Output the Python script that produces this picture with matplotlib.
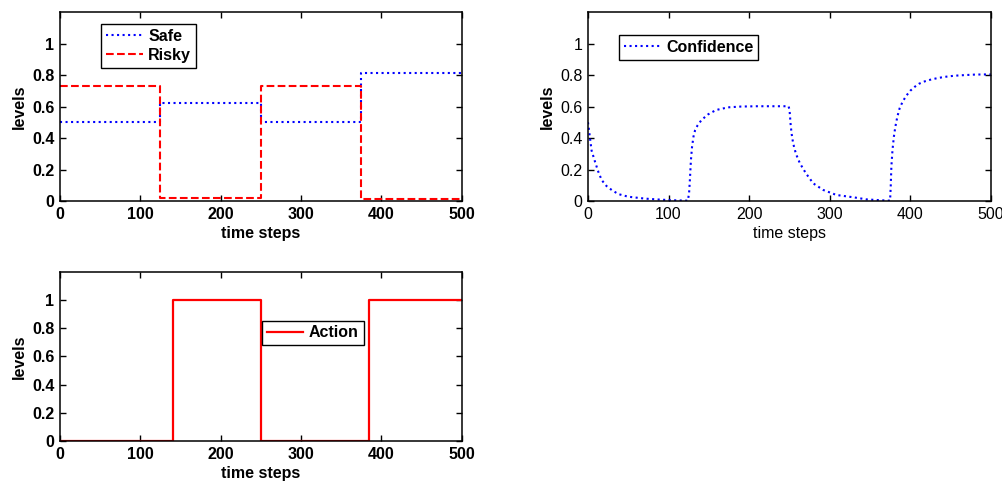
import numpy as np
import matplotlib
matplotlib.use('Agg')
import matplotlib.pyplot as plt
from matplotlib.ticker import FormatStrFormatter

plt.rcParams['font.family'] = ['Liberation Sans', 'DejaVu Sans']
plt.rcParams['font.size'] = 11.5

# step series: change points and level in each segment
step_t = [0, 125, 250, 375, 500]
safe = [0.50, 0.625, 0.50, 0.815]
risky = [0.73, 0.02, 0.73, 0.01]

action_t = [0, 140, 250, 384, 500]
action = [0, 1, 0, 1]

# confidence curve
conf_t = [0, 4.5, 8.7, 12.8, 17, 23, 29.4, 37.6, 50, 70.7, 91.4, 110, 124,
          125.5, 126.5, 127.8, 129.2, 131, 133, 136, 141, 149, 159, 174, 190, 210, 230, 249,
          250.2, 251.5, 252.7, 254.7, 258.1, 263, 270.5, 279.6, 292, 308.5, 330, 346, 362, 375,
          375.8, 376.6, 378, 379.7, 381.5, 384, 386.8, 390.5, 395, 400, 405.5, 411, 418, 426,
          435, 445, 455, 468, 480, 490, 500]
conf = [0.50, 0.32, 0.25, 0.186, 0.133, 0.095, 0.07, 0.044, 0.027, 0.015, 0.008, 0.004, 0.002,
        0.05, 0.133, 0.26, 0.345, 0.41, 0.45, 0.48, 0.515, 0.55, 0.578, 0.595, 0.60, 0.602, 0.602, 0.602,
        0.578, 0.49, 0.43, 0.366, 0.30, 0.24, 0.176, 0.112, 0.07, 0.038, 0.023, 0.01, 0.005, 0.002,
        0.09, 0.218, 0.324, 0.408, 0.47, 0.535, 0.588, 0.63, 0.668, 0.70, 0.725, 0.745, 0.76, 0.772,
        0.782, 0.79, 0.796, 0.80, 0.803, 0.804, 0.804]

FS = 11.5


def stairs(t, v):
    return t, list(v) + [v[-1]]


def style(ax, bold_ticks=True, bold_xlabel=True):
    ax.set_xlim(0, 500)
    ax.set_ylim(0, 1.2)
    ax.set_xticks([0, 100, 200, 300, 400, 500])
    ax.set_yticks([0, 0.2, 0.4, 0.6, 0.8, 1.0])
    ax.yaxis.set_major_formatter(FormatStrFormatter('%g'))
    ax.tick_params(direction='in', length=4, width=1, top=True, right=True, labelsize=FS, pad=4)
    w = 'bold' if bold_ticks else 'normal'
    for lab in ax.get_xticklabels() + ax.get_yticklabels():
        lab.set_fontweight(w)
    ax.set_xlabel('time steps', fontsize=FS, fontweight='bold' if bold_xlabel else 'normal', labelpad=3)
    ax.set_ylabel('levels', fontsize=FS, fontweight='bold', labelpad=4)
    for s in ax.spines.values():
        s.set_linewidth(1.1)


def legend(ax, x, y):
    leg = ax.legend(loc='upper left', bbox_to_anchor=(x, y), borderaxespad=0, fancybox=False,
                    framealpha=1, edgecolor='black', handlelength=2.3, handletextpad=0.35,
                    borderpad=0.3, labelspacing=0.25, prop={'weight': 'bold', 'size': FS})
    leg.get_frame().set_linewidth(1.0)


fig = plt.figure(figsize=(10.02, 4.83), dpi=100)
ax1 = fig.add_axes([0.0599, 0.5839, 0.401, 0.391])
ax2 = fig.add_axes([0.5868, 0.5839, 0.402, 0.391])
ax3 = fig.add_axes([0.0599, 0.087, 0.401, 0.35])

x, y = stairs(step_t, safe)
ax1.step(x, y, where='post', color='#0000ff', linestyle=':', linewidth=1.5, label='Safe')
x, y = stairs(step_t, risky)
ax1.step(x, y, where='post', color='#ff0000', linestyle='--', linewidth=1.5, label='Risky')
style(ax1)
legend(ax1, 0.102, 0.937)

ax2.plot(conf_t, conf, color='#0000ff', linestyle=':', linewidth=1.5, label='Confidence')
style(ax2, bold_ticks=False, bold_xlabel=False)
legend(ax2, 0.077, 0.878)

x, y = stairs(action_t, action)
ax3.step(x, y, where='post', color='#ff0000', linestyle='-', linewidth=1.6, label='Action')
style(ax3)
legend(ax3, 0.502, 0.712)

fig.savefig('out.png', dpi=100)
